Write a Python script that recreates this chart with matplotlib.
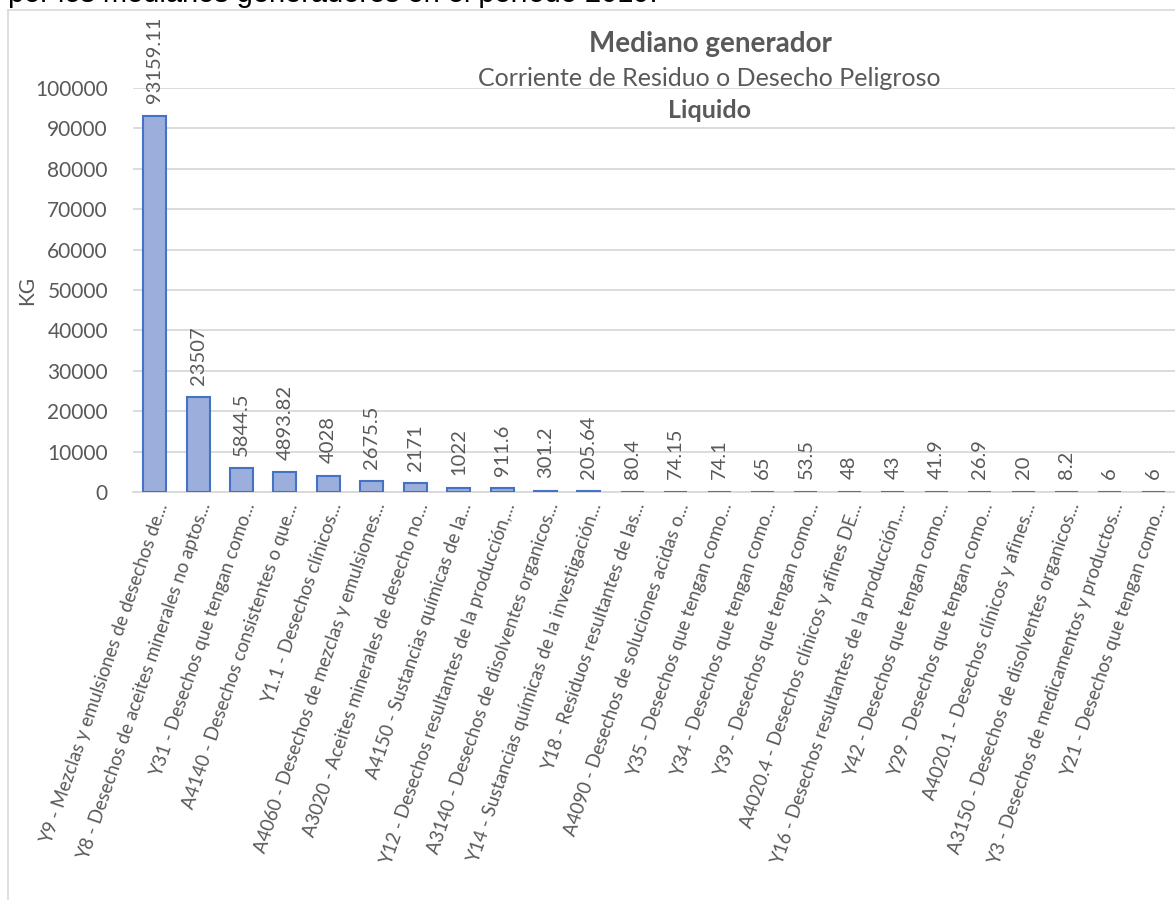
import matplotlib
matplotlib.use('Agg')
import matplotlib.pyplot as plt
from matplotlib.lines import Line2D

# data
categories = [
    'Y9 - Mezclas y emulsiones de desechos de...',
    'Y8 - Desechos de aceites minerales no aptos...',
    'Y31 - Desechos que tengan como...',
    'A4140 - Desechos consistentes o que...',
    'Y1.1 - Desechos clínicos...',
    'A4060 - Desechos de mezclas y emulsiones...',
    'A3020 - Aceites minerales de desecho no...',
    'A4150 - Sustancias químicas de la...',
    'Y12 - Desechos resultantes de la producción,...',
    'A3140 - Desechos de disolventes organicos...',
    'Y14 - Sustancias químicas de la investigación...',
    'Y18 - Residuos resultantes de las...',
    'A4090 - Desechos de soluciones acidas o...',
    'Y35 - Desechos que tengan como...',
    'Y34 - Desechos que tengan como...',
    'Y39 - Desechos que tengan como...',
    'A4020.4 - Desechos clínicos y afines DE...',
    'Y16 - Desechos resultantes de la producción,...',
    'Y42 - Desechos que tengan como...',
    'Y29 - Desechos que tengan como...',
    'A4020.1 - Desechos clínicos y afines...',
    'A3150 - Desechos de disolventes organicos...',
    'Y3 - Desechos de medicamentos y productos...',
    'Y21 - Desechos que tengan como...',
]
kg_values = [93159.11, 23507, 5844.5, 4893.82, 4028, 2675.5, 2171, 1022, 911.6,
             301.2, 205.64, 80.4, 74.15, 74.1, 65, 53.5, 48, 43, 41.9, 26.9,
             20, 8.2, 6, 6]
y_ticks = list(range(0, 100001, 10000))

GRAY = '#595959'
GRID = '#d9d9d9'
FONT = 'Lato'
W, H = 1175, 900

fig = plt.figure(figsize=(W / 100, H / 100), dpi=100)
fig.patch.set_facecolor('white')

# chart frame (left and top border of the embedded excel chart)
fig.add_artist(Line2D([8 / W, 8 / W], [0, 1 - 10 / H], color=GRID, lw=1.2,
                      transform=fig.transFigure))
fig.add_artist(Line2D([8 / W, 1], [1 - 10 / H, 1 - 10 / H], color=GRID, lw=1.2,
                      transform=fig.transFigure))

# cut-off document text above the chart
fig.text(8 / W, 1 - 2.5 / H, 'por los medianos generadores en el período 2019.',
         fontsize=20.9, family='Liberation Sans', color='black',
         ha='left', va='baseline')

ax = fig.add_axes([133 / W, 1 - 492 / H, (1175 - 133) / W, (492 - 88) / H])
x = list(range(len(kg_values)))
ax.bar(x, kg_values, width=0.53, color='#9cafdc', edgecolor='#4472c4',
       linewidth=1.5, zorder=3)

for xi, v in zip(x, kg_values):
    lbl = f'{v:.2f}'.rstrip('0').rstrip('.')
    ax.annotate(lbl, (xi, v), xytext=(0, 9), textcoords='offset points',
                rotation=90, ha='center', va='bottom', fontsize=14.5,
                family=FONT, color=GRAY, annotation_clip=False)

ax.set_xlim(-0.5, len(kg_values) - 0.5)
ax.set_ylim(0, 100000)
ax.set_yticks(y_ticks)
ax.set_yticklabels([str(t) for t in y_ticks], family=FONT,
                   fontsize=15, color=GRAY)
ax.set_xticks(x)
ax.set_xticklabels(categories, rotation=71, ha='right', va='top',
                   rotation_mode='anchor', family=FONT, fontsize=13.4,
                   color=GRAY)
ax.tick_params(axis='both', length=0)
ax.tick_params(axis='y', pad=18)
ax.tick_params(axis='x', pad=6)
ax.grid(axis='y', color=GRID, lw=1.3, zorder=0)
ax.set_axisbelow(True)
for s in ['top', 'right', 'left']:
    ax.spines[s].set_visible(False)
ax.spines['bottom'].set_color(GRID)
ax.spines['bottom'].set_linewidth(1.3)

ax.set_ylabel('KG', family=FONT, fontsize=15, color=GRAY)
ax.yaxis.set_label_coords(-(133 - 37) / (1175 - 133), 0.5)

# chart titles
fig.text(710 / W, 1 - 44 / H, 'Mediano generador', family=FONT,
         fontweight='bold', fontsize=20, color=GRAY, ha='center', va='center')
fig.text(709 / W, 1 - 78 / H, 'Corriente de Residuo o Desecho Peligroso',
         family=FONT, fontsize=18, color=GRAY, ha='center', va='center')
fig.text(709 / W, 1 - 110 / H, 'Liquido', family=FONT, fontweight='bold',
         fontsize=18, color=GRAY, ha='center', va='center')

fig.savefig('out.png', dpi=100, facecolor='white')
